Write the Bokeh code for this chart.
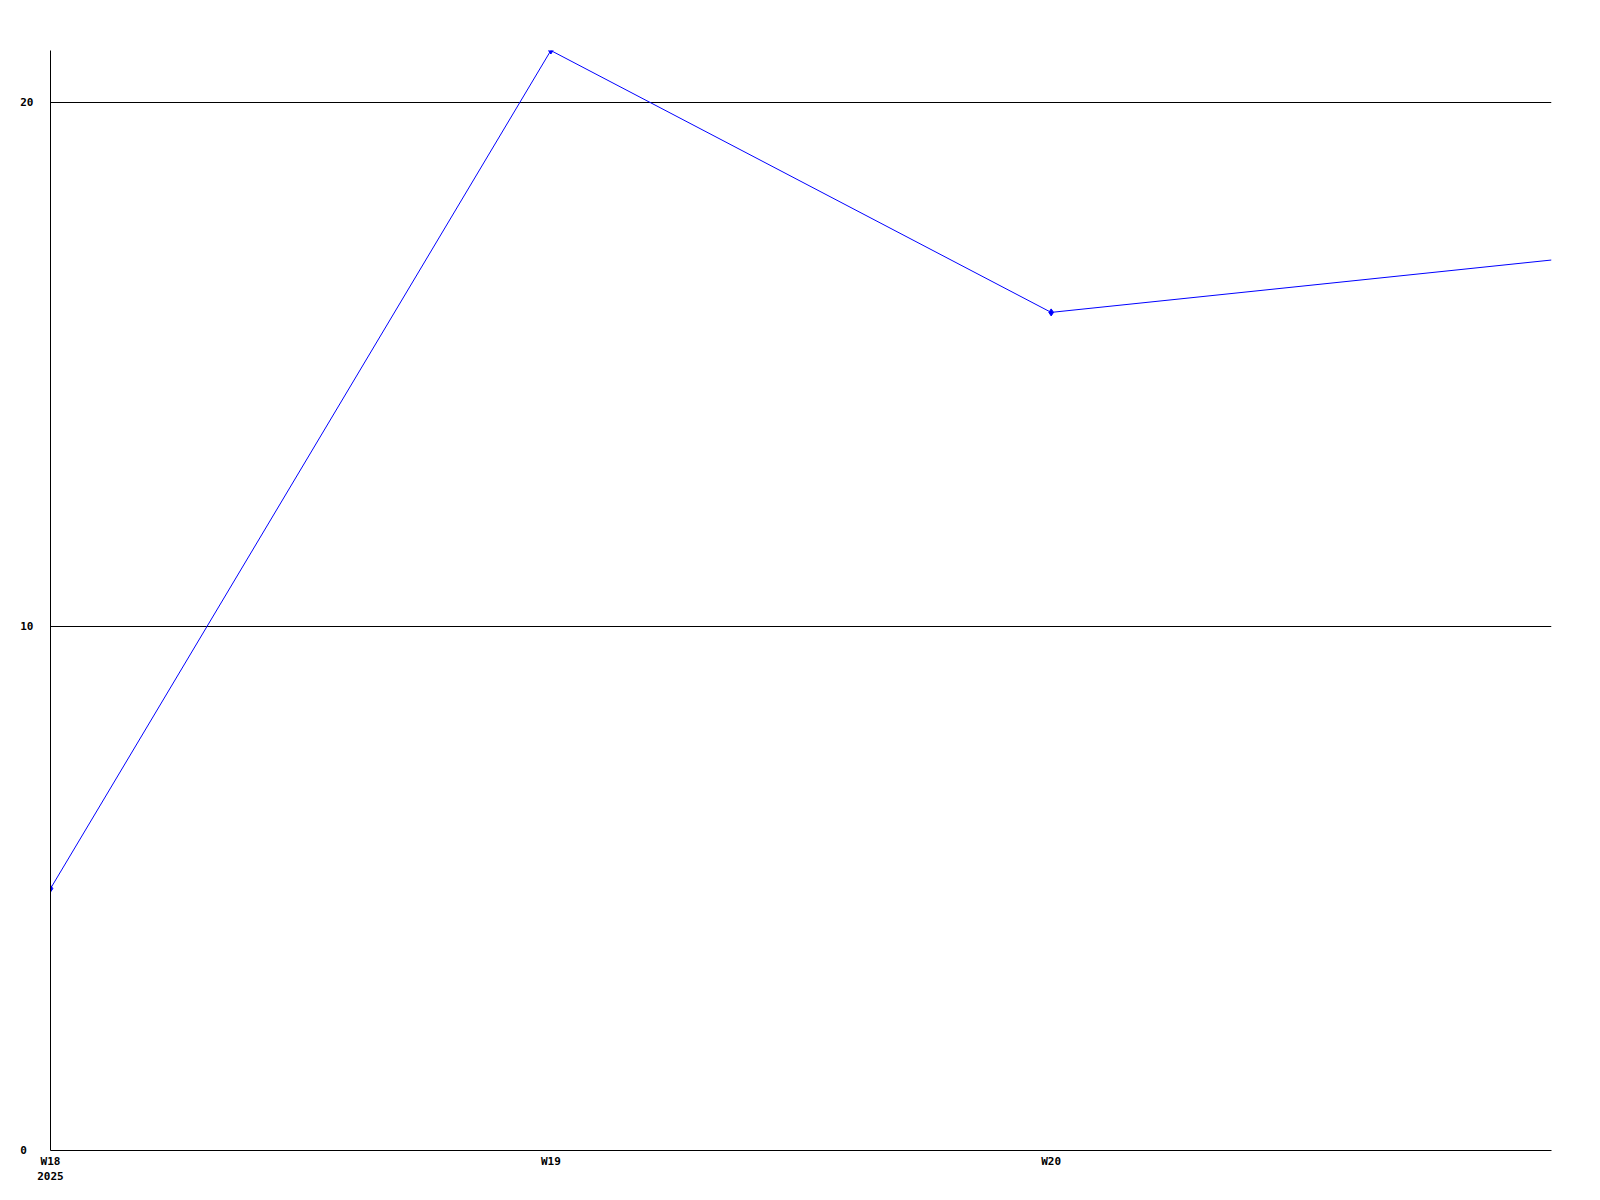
from bokeh.plotting import figure
from bokeh.models import Range1d, FixedTicker
from bokeh.embed import file_html
from bokeh.resources import INLINE

weeks = ["W18", "W19", "W20", "W21"]
week_labels = ["W18\n2025", "W19", "W20"]
values = [5, 21, 16, 17]
y_ticks = [0, 10, 20]
y_labels = ["0", "10", "20"]

xs = list(range(len(weeks)))

p = figure(width=1581, height=1186, output_backend="svg", toolbar_location=None,
           x_range=Range1d(0, len(weeks) - 1), y_range=Range1d(0, 21),
           min_border_left=50, min_border_top=50, min_border_right=30, min_border_bottom=36)
p.outline_line_color = None
p.background_fill_color = "white"

p.line(xs, values, line_color="#0000ff", line_width=1)
p.scatter(xs[:-1], values[:-1], marker="diamond", size=7, color="#0000ff")

FONT = "DejaVu Sans Mono"
p.xaxis.ticker = FixedTicker(ticks=list(range(len(week_labels))))
p.xaxis.major_label_overrides = {i: lab for i, lab in enumerate(week_labels)}
p.yaxis.ticker = FixedTicker(ticks=y_ticks)
# left-align the y labels in a fixed-width column (monospace padding)
p.yaxis.major_label_overrides = {t: lab + "\u00a0" * (2 - len(lab)) for t, lab in zip(y_ticks, y_labels)}
for ax in (p.xaxis[0], p.yaxis[0]):
    ax.major_tick_line_color = None
    ax.minor_tick_line_color = None
    ax.major_tick_out = 0
    ax.major_tick_in = 0
    ax.axis_line_color = "black"
    ax.major_label_text_font = FONT
    ax.major_label_text_font_style = "bold"
    ax.major_label_text_font_size = "11px"
    ax.major_label_text_color = "black"
p.yaxis.major_label_standoff = 17
p.xaxis.major_label_standoff = 4

p.xgrid.grid_line_color = None
p.ygrid.grid_line_color = "black"
p.ygrid.grid_line_width = 1

open("out.html", "w").write(file_html(p, INLINE))
